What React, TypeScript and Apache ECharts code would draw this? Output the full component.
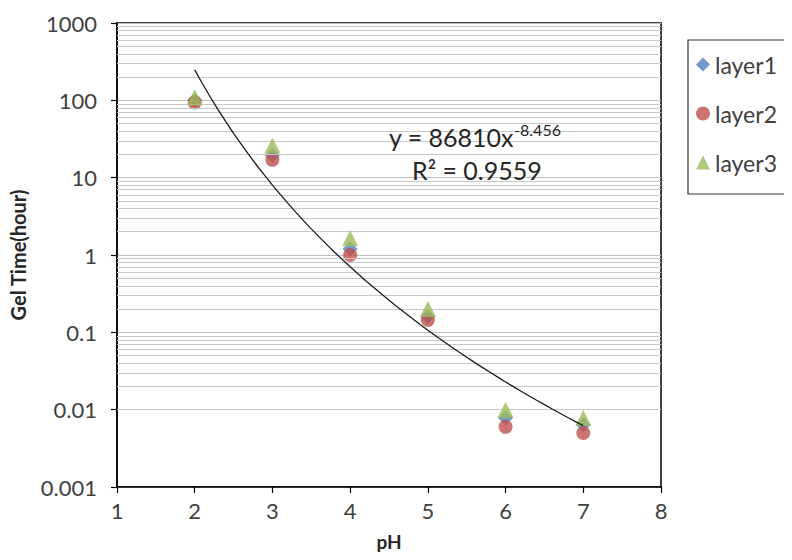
import React, { useEffect, useRef } from "react";
import * as echarts from "echarts";

// ---- data ----
const PH = [2, 3, 4, 5, 6, 7];
const LAYER1 = [100, 19.5, 1.2, 0.16, 0.0078, 0.0064];
const LAYER2 = [94, 17, 1.0, 0.145, 0.006, 0.005];
const LAYER3 = [110, 26, 1.65, 0.2, 0.01, 0.0078];

// power-law trendline shown on the chart: y = 86810 x^-8.456
const TREND_A = 86810;
const TREND_B = -8.456;
const TREND_X_START = 2;
const TREND_X_END = 7;
const TREND_STEPS = 50;

const X_TICKS = [1, 2, 3, 4, 5, 6, 7, 8];
const Y_DECADES = [0.001, 0.01, 0.1, 1, 10, 100];
const MINOR_MULTIPLIERS = [2, 3, 4, 5, 6, 7, 8, 9];

const FONT = "Lato, 'Open Sans', sans-serif";

export default function App() {
  const ref = useRef<HTMLDivElement>(null);

  useEffect(() => {
    if (!ref.current) return;
    const chart = echarts.init(ref.current, undefined, { renderer: "svg" });

    const trend: number[][] = [];
    for (let i = 0; i <= TREND_STEPS; i++) {
      const x = TREND_X_START + ((TREND_X_END - TREND_X_START) * i) / TREND_STEPS;
      trend.push([x, TREND_A * Math.pow(x, TREND_B)]);
    }

    const minorLines: { yAxis: number }[] = [];
    Y_DECADES.forEach((d) =>
      MINOR_MULTIPLIERS.forEach((m) => minorLines.push({ yAxis: +(d * m).toPrecision(3) }))
    );

    const toPairs = (vals: number[]) => PH.map((x, i) => [x, vals[i]]);

    chart.setOption({
      animation: false,
      backgroundColor: "#ffffff",
      textStyle: { fontFamily: FONT },
      grid: { left: 115, top: 23, width: 546, height: 464, show: true, borderColor: "#000", borderWidth: 1.5 },
      xAxis: {
        type: "value",
        min: X_TICKS[0],
        max: X_TICKS[X_TICKS.length - 1],
        interval: 1,
        name: "pH",
        nameLocation: "middle",
        nameGap: 45,
        nameTextStyle: { fontSize: 19, fontWeight: "bold", color: "#262626", fontFamily: FONT },
        axisLine: { show: true, lineStyle: { color: "#000", width: 1.5 } },
        axisTick: { show: true, inside: false, length: 6, lineStyle: { color: "#000", width: 1.2 } },
        axisLabel: { fontSize: 22, color: "#404040", margin: 12, fontFamily: FONT },
        splitLine: { show: false },
      },
      yAxis: {
        type: "log",
        logBase: 10,
        min: 0.001,
        max: 1000,
        name: "Gel Time(hour)",
        nameLocation: "middle",
        nameGap: 89,
        nameTextStyle: { fontSize: 20, fontWeight: "bold", color: "#262626", fontFamily: FONT },
        axisLine: { show: true, lineStyle: { color: "#000", width: 1.5 } },
        axisTick: { show: true, inside: false, length: 6, lineStyle: { color: "#000", width: 1.2 } },
        axisLabel: {
          fontSize: 22,
          color: "#404040",
          margin: 20,
          fontFamily: FONT,
          formatter: (v: number) => String(+v.toPrecision(3)),
        },
        splitLine: { show: true, lineStyle: { color: "#bdbdbd", width: 1.2 } },
      },
      legend: {
        data: ["layer1", "layer2", "layer3"],
        orient: "vertical",
        left: 688,
        top: 40,
        padding: [13, 12, 20, 8],
        itemGap: 26,
        itemWidth: 14,
        itemHeight: 14,
        borderColor: "#333",
        borderWidth: 1.2,
        textStyle: { fontSize: 23, color: "#404040", fontFamily: FONT },
      },
      graphic: [
        {
          type: "text",
          left: 389,
          top: 121,
          z: 100,
          style: {
            text: "y = 86810x{sup|-8.456}",
            fontSize: 25,
            fontFamily: FONT,
            fill: "#262626",
            rich: {
              sup: { fontSize: 16, fontFamily: FONT, fill: "#262626", padding: [0, 0, 15, 0] },
            },
          },
        },
        {
          type: "text",
          left: 412,
          top: 157,
          z: 100,
          style: { text: "R² = 0.9559", fontSize: 25, fontFamily: FONT, fill: "#262626" },
        },
      ],
      series: [
        {
          name: "minorGrid",
          type: "line",
          data: [],
          silent: true,
          z: 1,
          markLine: {
            silent: true,
            symbol: "none",
            label: { show: false },
            lineStyle: { color: "#c8c8c8", width: 1, type: "solid" },
            data: minorLines,
          },
        },
        {
          name: "layer1",
          type: "scatter",
          symbol: "diamond",
          symbolSize: 15,
          itemStyle: { color: "#4f81bd" },
          data: toPairs(LAYER1),
          z: 3,
        },
        {
          name: "layer2",
          type: "scatter",
          symbol: "circle",
          symbolSize: 14,
          itemStyle: { color: "#c0504d" },
          data: toPairs(LAYER2),
          z: 4,
        },
        {
          name: "layer3",
          type: "scatter",
          symbol: "triangle",
          symbolSize: 16,
          itemStyle: { color: "#9bbb59" },
          data: toPairs(LAYER3),
          z: 5,
        },
        {
          name: "trend",
          type: "line",
          data: trend,
          showSymbol: false,
          symbol: "none",
          smooth: false,
          lineStyle: { color: "#1a1a1a", width: 1.3 },
          z: 6,
        },
      ],
    });

    return () => chart.dispose();
  }, []);

  return <div ref={ref} style={{ width: 792, height: 560, margin: -8 }} />;
}
